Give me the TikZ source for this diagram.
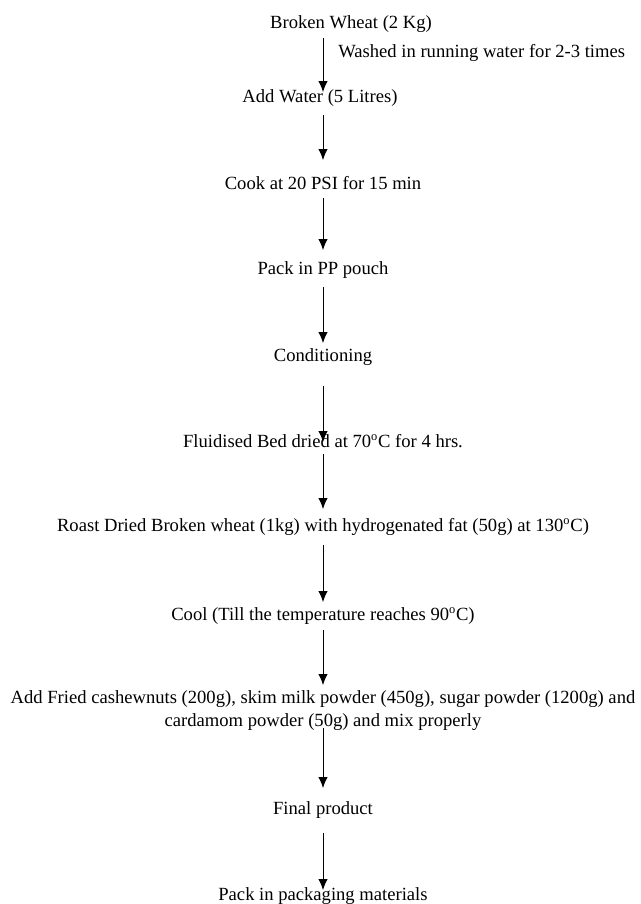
\documentclass[tikz,border=0pt]{standalone}
\usepackage{fontspec}
\setmainfont{Liberation Serif}
\usepackage{tikz}
\usetikzlibrary{arrows.meta}
\tikzset{>={Latex[length=7pt,width=6pt]}}

\begin{document}
\begin{tikzpicture}[x=0.645pt, y=-0.645pt,
  stage/.style={inner sep=0pt, anchor=base, font=\fontsize{12}{14.8}\selectfont},
  flow/.style={->, line width=0.6pt}]

\useasboundingbox (0,0) rectangle (641,904);

% Process stages
\node[stage] (wheat) at (351,28) {Broken Wheat (2 Kg)};
\node[stage, anchor=base west] (wash) at (338,57) {Washed in running water for 2-3 times};
\node[stage] (water) at (320,102) {Add Water (5 Litres)};
\node[stage] (cook) at (323,189) {Cook at 20 PSI for 15 min};
\node[stage] (pouch) at (323,274) {Pack in PP pouch};
\node[stage] (cond) at (323,361) {Conditioning};
\node[stage] (dry) at (323,447) {Fluidised Bed dried at 70\textsuperscript{o}C for 4 hrs.};
\node[stage] (roast) at (323,531) {Roast Dried Broken wheat (1kg) with hydrogenated fat (50g) at 130\textsuperscript{o}C)};
\node[stage] (cool) at (323,620) {Cool (Till the temperature reaches 90\textsuperscript{o}C)};
\node[stage, align=center] (mix) at (323,726) {Add Fried cashewnuts (200g), skim milk powder (450g), sugar powder (1200g) and\\cardamom powder (50g) and mix properly};
\node[stage] (final) at (323,814) {Final product};
\node[stage] (pack) at (323,900) {Pack in packaging materials};

% Arrows between stages
\foreach \n/\a/\b in {1/38/92, 2/115/160, 3/198/250, 4/287/343, 5/386/442,
                      6/454/509, 7/545/602, 8/630/685, 9/728/788, 10/833/890} {
  \coordinate (from\n) at (323,\a);
  \coordinate (to\n) at (323,\b);
  \draw[flow] (from\n) -- (to\n);
}

\end{tikzpicture}
\end{document}
